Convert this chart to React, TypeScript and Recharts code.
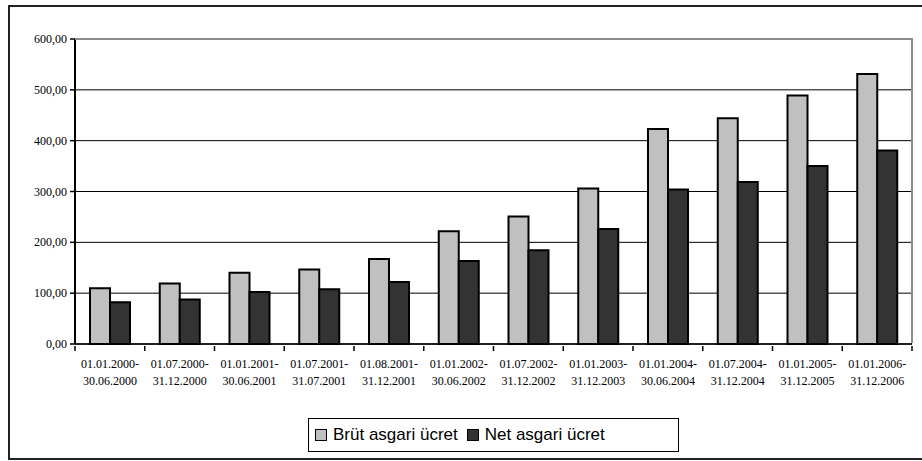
import { BarChart, Bar, XAxis, YAxis, CartesianGrid } from 'recharts'

const periodStart = [
  '01.01.2000-', '01.07.2000-', '01.01.2001-', '01.07.2001-', '01.08.2001-', '01.01.2002-',
  '01.07.2002-', '01.01.2003-', '01.01.2004-', '01.07.2004-', '01.01.2005-', '01.01.2006-',
]
const periodEnd = [
  '30.06.2000', '31.12.2000', '30.06.2001', '31.07.2001', '31.12.2001', '30.06.2002',
  '31.12.2002', '31.12.2003', '30.06.2004', '31.12.2004', '31.12.2005', '31.12.2006',
]
const brut = [109.5, 118.8, 139.95, 146.7, 167.4, 222.0, 250.9, 306.0, 423.0, 444.2, 488.7, 531.0]
const net = [81.9, 87.3, 102.5, 107.5, 122.0, 163.1, 184.3, 226.0, 303.8, 318.7, 350.2, 380.5]
const yTicks = [0, 100, 200, 300, 400, 500, 600]

const data = periodStart.map((s, i) => ({
  name: s + '|' + periodEnd[i],
  brut: brut[i],
  net: net[i],
}))

const W = 922
const H = 461
const PLOT_LEFT = 75
const PLOT_RIGHT = 912
const PLOT_TOP = 39
const PLOT_BOTTOM = 344
const BAND = (PLOT_RIGHT - PLOT_LEFT) / periodStart.length

const serif = "'Liberation Serif', 'Times New Roman', Times, 'DejaVu Serif', serif"
const sans = "'Liberation Sans', Arial, sans-serif"

function CategoryTick(props: any) {
  const { x, y, payload, index } = props
  const [a, b] = String(payload.value).split('|')
  return (
    <g>
      {index === 0 && (
        <line x1={x - BAND / 2} x2={x - BAND / 2} y1={y - 8} y2={y - 3} stroke="#000" strokeWidth={1.5} />
      )}
      <line x1={x + BAND / 2} x2={x + BAND / 2} y1={y - 8} y2={y - 3} stroke="#000" strokeWidth={1.5} />
      <text x={x} y={y} textAnchor="middle" style={{ fontFamily: serif, fontSize: 12 }} fill="#000">
        <tspan x={x} dy={14}>{a}</tspan>
        <tspan x={x} dy={17}>{b}</tspan>
      </text>
    </g>
  )
}

function YTick(props: any) {
  const { x, y, payload } = props
  return (
    <text x={x} y={y} dy={4} textAnchor="end" style={{ fontFamily: serif, fontSize: 12 }} fill="#000">
      {Number(payload.value).toFixed(2).replace('.', ',')}
    </text>
  )
}

const legendItems = [
  { label: 'Brüt asgari ücret', color: '#c0c0c0' },
  { label: 'Net asgari ücret', color: '#333333' },
]

export default function App() {
  return (
    <div style={{ position: 'absolute', left: 0, top: 0, width: W, height: H, background: '#fff', overflow: 'hidden' }}>
      <div
        style={{
          position: 'absolute',
          left: 8,
          top: 5,
          width: W,
          height: 455,
          border: '2px solid #222',
          boxSizing: 'border-box',
        }}
      />
      <div style={{ position: 'absolute', left: 0, top: 0 }}>
        <BarChart
          width={W}
          height={H}
          data={data}
          margin={{ top: PLOT_TOP, right: W - PLOT_RIGHT, left: 0, bottom: 0 }}
          barGap={0}
          barSize={20}
        >
          <CartesianGrid vertical={false} stroke="#000" strokeWidth={1} />
          <XAxis
            dataKey="name"
            height={H - PLOT_BOTTOM}
            tick={<CategoryTick />}
            tickLine={false}
            axisLine={{ stroke: '#000', strokeWidth: 1.5 }}
            interval={0}
            tickSize={8}
          />
          <YAxis
            width={PLOT_LEFT}
            domain={[0, 600]}
            ticks={yTicks}
            tick={<YTick />}
            tickLine={{ stroke: '#000', strokeWidth: 1.5 }}
            tickSize={5}
            tickMargin={3}
            axisLine={{ stroke: '#000', strokeWidth: 2 }}
          />
          <Bar dataKey="brut" name="Brüt asgari ücret" fill="#c0c0c0" stroke="#000" strokeWidth={2} isAnimationActive={false} />
          <Bar dataKey="net" name="Net asgari ücret" fill="#333333" stroke="#000" strokeWidth={2} isAnimationActive={false} />
        </BarChart>
      </div>
      <div
        style={{
          position: 'absolute',
          left: PLOT_LEFT,
          top: PLOT_TOP - 1,
          width: PLOT_RIGHT - PLOT_LEFT + 1,
          height: PLOT_BOTTOM - PLOT_TOP,
          borderTop: '2px solid #8c8c8c',
          borderRight: '2px solid #8c8c8c',
          boxSizing: 'border-box',
          pointerEvents: 'none',
        }}
      />
      <div
        style={{
          position: 'absolute',
          left: 308,
          top: 418,
          width: 371,
          height: 34,
          border: '1px solid #000',
          display: 'flex',
          alignItems: 'center',
          padding: '0 6px',
          boxSizing: 'border-box',
          fontFamily: sans,
          fontSize: 17,
          color: '#000',
          background: '#fff',
        }}
      >
        {legendItems.map((it, i) => (
          <div key={i} style={{ display: 'flex', alignItems: 'center', marginRight: i === 0 ? 9 : 0 }}>
            <span
              style={{
                display: 'inline-block',
                width: 10,
                height: 10,
                background: it.color,
                border: '1.5px solid #000',
                marginRight: 6,
              }}
            />
            {it.label}
          </div>
        ))}
      </div>
    </div>
  )
}
